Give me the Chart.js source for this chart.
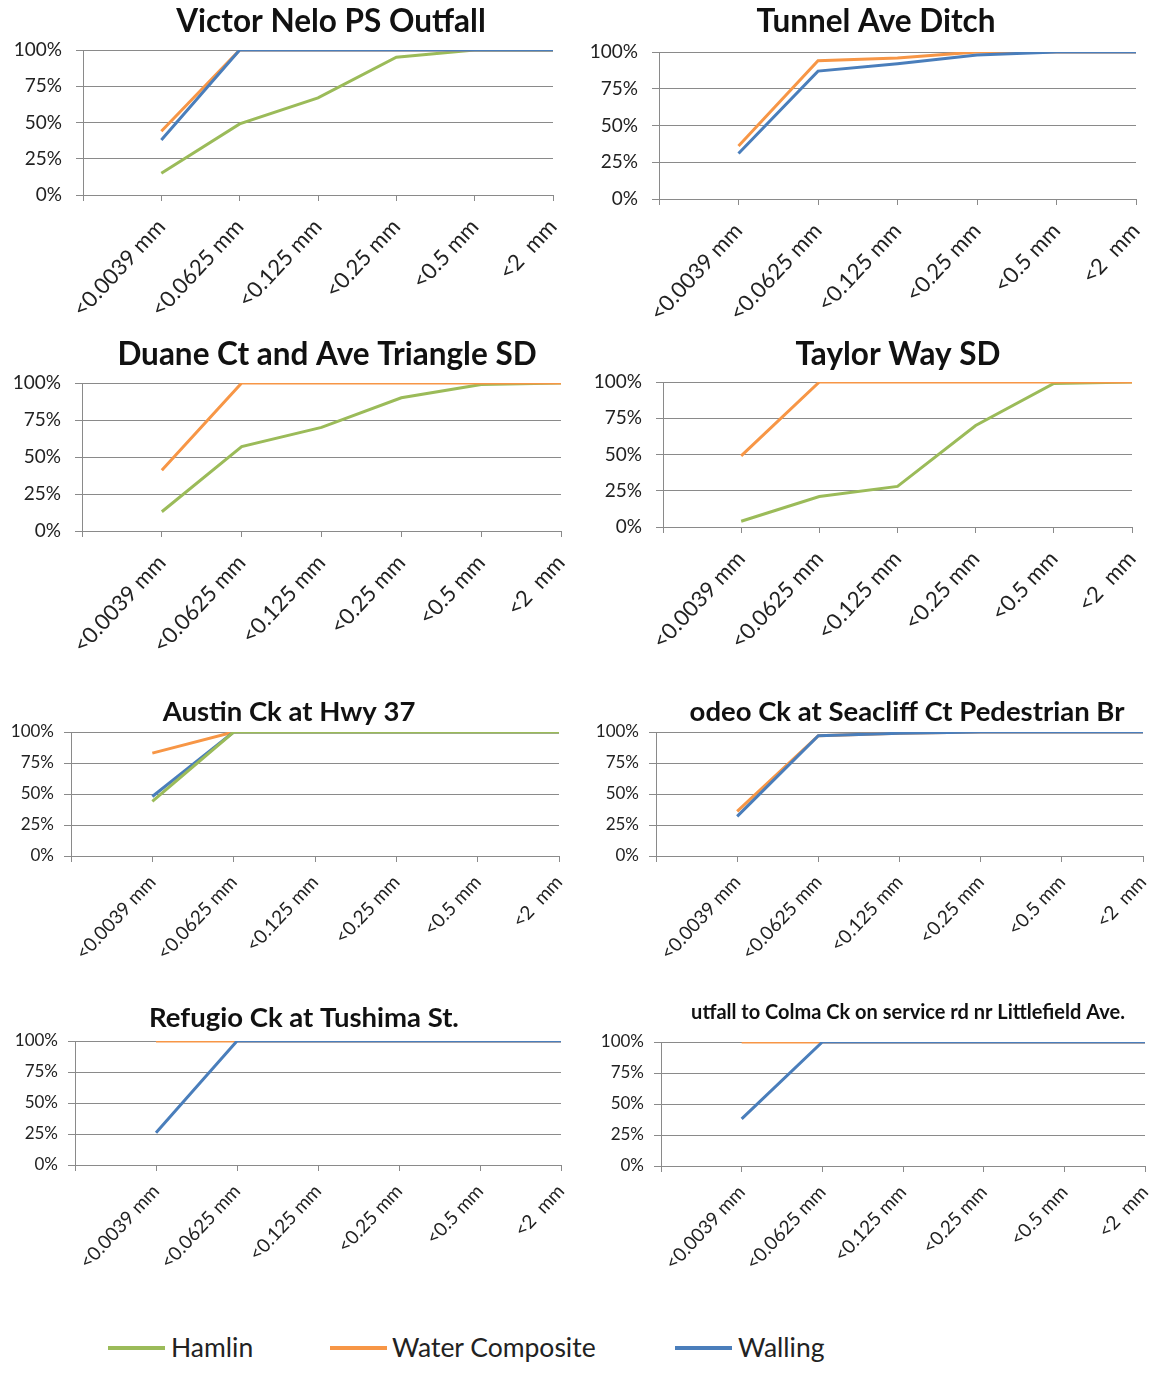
<!DOCTYPE html>
<html>
<head>
<meta charset="utf-8">
<script src="https://cdn.jsdelivr.net/npm/chart.js@4/dist/chart.umd.min.js"></script>
<style>
  body { margin: 0; background: #fff; }
  #page { position: relative; width: 1151px; height: 1374px; }
  .panel { position: absolute; }
  .legend { position: absolute; top: 1328px; left: 0; width: 1151px; height: 40px; font-family: Lato, sans-serif; font-size: 26.5px; color: #222; }
  .legend span { position: absolute; top: 3px; }
  .legend i { position: absolute; top: 18px; height: 4px; width: 57px; }
</style>
</head>
<body>
<div id="page">
  <div class="legend">
    <i style="left:108px;background:#9BBB59"></i><span style="left:171px">Hamlin</span>
    <i style="left:330px;background:#F79646"></i><span style="left:392px">Water Composite</span>
    <i style="left:675px;background:#4A7EBB"></i><span style="left:738px">Walling</span>
  </div>
</div>
<script>
const categories = ['<0.0039 mm', '<0.0625 mm', '<0.125 mm', '<0.25 mm', '<0.5 mm', '<2  mm'];
const yTicks = [0, 25, 50, 75, 100];

const titles = [
    'Victor Nelo PS Outfall',
    'Tunnel Ave Ditch',
    'Duane Ct and Ave Triangle SD',
    'Taylor Way SD',
    'Austin Ck at Hwy 37',
    'odeo Ck at Seacliff Ct Pedestrian Br',
    'Refugio Ck at Tushima St.',
    'utfall to Colma Ck on service rd nr Littlefield Ave.'
];

// cumulative percent finer than, one row per site (null = no sample)
const hamlin = [
    [15, 49, 67, 95, 100, 100],
    null,
    [13, 57, 70, 90, 99, 100],
    [4, 21, 28, 70, 99, 100],
    [44, 100, 100, 100, 100, 100],
    null,
    null,
    null
];
const waterComposite = [
    [44, 100, 100, 100, 100, 100],
    [36, 94, 96, 100, 100, 100],
    [41, 100, 100, 100, 100, 100],
    [49, 100, 100, 100, 100, 100],
    [83, 100, 100, 100, 100, 100],
    [36, 97, 99, 100, 100, 100],
    [100, 100, 100, 100, 100, 100],
    [100, 100, 100, 100, 100, 100]
];
const walling = [
    [38, 100, 100, 100, 100, 100],
    [31, 87, 92, 98, 100, 100],
    null,
    null,
    [48, 100, 100, 100, 100, 100],
    [32, 97, 99, 100, 100, 100],
    [26, 100, 100, 100, 100, 100],
    [38, 100, 100, 100, 100, 100]
];

const colors = { hamlin: '#9BBB59', water: '#F79646', walling: '#4A7EBB' };

// panel boxes and plot-area edges in page pixels
const panels = [
    { x: 0,   y: 0,   w: 575, h: 335, left: 83,  right: 553,  top: 50,   bottom: 195,  tx: 331, ty: 22,   ts: 31.5, fs: 19, xs: 22, yp: 14, xp: 13 },
    { x: 575, y: 0,   w: 576, h: 335, left: 659, right: 1136, top: 52,   bottom: 199,  tx: 876, ty: 22,   ts: 31.5, fs: 19, xs: 22, yp: 14, xp: 13 },
    { x: 0,   y: 335, w: 575, h: 330, left: 82,  right: 561,  top: 383,  bottom: 531,  tx: 327, ty: 355,  ts: 31.5, fs: 19, xs: 22, yp: 14, xp: 13 },
    { x: 575, y: 335, w: 576, h: 330, left: 663, right: 1132, top: 382,  bottom: 527,  tx: 898, ty: 355,  ts: 31.5, fs: 19, xs: 22, yp: 14, xp: 13 },
    { x: 0,   y: 690, w: 575, h: 290, left: 71,  right: 559,  top: 732,  bottom: 856,  tx: 289, ty: 712,  ts: 27.5, fs: 17, xs: 19, yp: 10, xp: 9, hamlinTop: true },
    { x: 575, y: 690, w: 576, h: 290, left: 656, right: 1143, top: 732,  bottom: 856,  tx: 907, ty: 712,  ts: 27.5, fs: 17, xs: 19, yp: 10, xp: 9 },
    { x: 0,   y: 990, w: 575, h: 300, left: 75,  right: 561,  top: 1041, bottom: 1165, tx: 304, ty: 1018, ts: 27.5, fs: 17, xs: 19, yp: 10, xp: 9 },
    { x: 575, y: 990, w: 576, h: 300, left: 661, right: 1145, top: 1042, bottom: 1166, tx: 908, ty: 1013, ts: 20,   fs: 17, xs: 19, yp: 10, xp: 9 }
];

const placedTitle = {
    id: 'placedTitle',
    afterDraw(chart, args, opts) {
        const ctx = chart.ctx;
        ctx.save();
        ctx.font = 'bold ' + opts.size + 'px Lato, sans-serif';
        ctx.fillStyle = '#111';
        ctx.textAlign = 'center';
        ctx.textBaseline = 'middle';
        ctx.fillText(opts.text, opts.x, opts.y);
        ctx.restore();
    }
};
Chart.register(placedTitle);

function series(values) {
    return values ? [null].concat(values) : categories.map(() => null).concat([null]);
}

function makeChart(i) {
    const p = panels[i];
    const div = document.createElement('div');
    div.className = 'panel';
    div.style.cssText = `left:${p.x}px;top:${p.y}px;width:${p.w}px;height:${p.h}px`;
    const canvas = document.createElement('canvas');
    canvas.width = p.w;
    canvas.height = p.h;
    div.appendChild(canvas);
    document.getElementById('page').appendChild(div);

    const line = (label, values, color, order) => ({
        label, data: series(values), borderColor: color, backgroundColor: color,
        borderWidth: 3, pointRadius: 0, tension: 0, order
    });

    new Chart(canvas, {
        type: 'line',
        data: {
            labels: [''].concat(categories),
            datasets: [
                line('Hamlin', hamlin[i], colors.hamlin, p.hamlinTop ? -1 : 2),
                line('Water Composite', waterComposite[i], colors.water, 1),
                line('Walling', walling[i], colors.walling, 0)
            ]
        },
        options: {
            responsive: false,
            animation: false,
            layout: { padding: { top: p.top - p.y, left: 0, right: p.x + p.w - p.right, bottom: 0 } },
            plugins: {
                legend: { display: false },
                tooltip: { enabled: false },
                placedTitle: { text: titles[i], x: p.tx - p.x, y: p.ty - p.y, size: p.ts }
            },
            scales: {
                x: {
                    offset: false,
                    grid: { drawOnChartArea: false, drawTicks: true, tickLength: 6, color: '#8a8a8a' },
                    border: { color: '#8a8a8a', width: 1 },
                    ticks: {
                        autoSkip: false, maxRotation: 47, minRotation: 47, padding: p.xp,
                        color: '#222', font: { family: 'Lato', size: p.xs }
                    },
                    afterFit: s => { s.height = p.y + p.h - p.bottom; s.paddingLeft = 0; s.paddingRight = 0; }
                },
                y: {
                    min: 0, max: 100,
                    afterBuildTicks: s => { s.ticks = yTicks.map(v => ({ value: v })); },
                    grid: { color: '#8a8a8a', tickLength: 7 },
                    border: { color: '#8a8a8a', width: 1 },
                    ticks: {
                        padding: p.yp, color: '#222', font: { family: 'Lato', size: p.fs },
                        callback: v => v + '%'
                    },
                    afterFit: s => { s.width = p.left - p.x; }
                }
            }
        }
    });
}

panels.forEach((p, i) => makeChart(i));
</script>
</body>
</html>
